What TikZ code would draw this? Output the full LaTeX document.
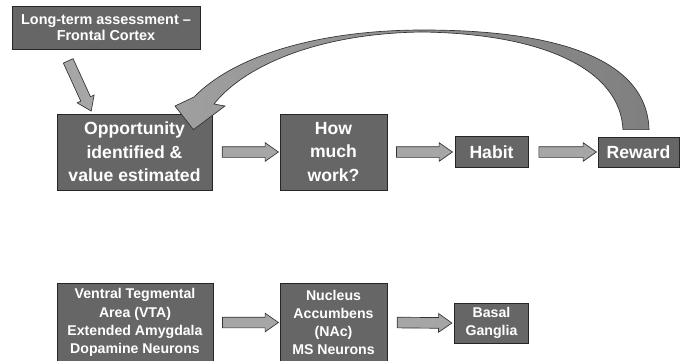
\documentclass[tikz,border=0pt]{standalone}
\usepackage{fontspec}
\setmainfont{Liberation Sans}
\usepackage{xcolor}
\usepackage{tikz}
\usetikzlibrary{arrows.meta, positioning, shapes.arrows, calc}

\definecolor{boxgray}{gray}{0.40}
\definecolor{arrowgray}{gray}{0.65}

% block arrow between two points
\newcommand{\blockarrow}[2]{%
\path let \p1=#1, \p2=#2,
\n1={atan2(\y2-\y1,\x2-\x1)},
\n2={veclen(\x2-\x1,\y2-\y1)} in
node[barrow, minimum height=\n2, rotate=\n1] at ($#1!0.5!#2$) {};}

\begin{document}
\begin{tikzpicture}[
x=0.75pt, y=-0.75pt,
box/.style={
rectangle,
draw=black!85,
line width=0.6pt,
fill=boxgray,
text=white,
inner sep=0pt,
align=center
},
bigtext/.style={font=\fontsize{13.2}{17.6}\selectfont\bfseries},
smalltext/.style={font=\fontsize{10.6}{13.6}\selectfont\bfseries},
barrow/.style={
single arrow,
draw=black!80,
line width=0.5pt,
fill=arrowgray,
inner xsep=0pt,
inner ysep=3.75pt,
single arrow head extend=3pt,
single arrow tip angle=70
},
bigarrow/.style={
draw=black!80,
line width=0.5pt,
left color=gray!75,
right color=gray!100
}
]
\useasboundingbox (0,0) rectangle (684,360);
\clip (0,0) rectangle (684,360);

% Top row
\node[box, font=\fontsize{10.8}{11.8}\selectfont\bfseries,
minimum width=141pt, minimum height=32.25pt] (longterm)
at (106,27.5) {Long-term assessment --\\Frontal Cortex};

\node[box, bigtext, minimum width=116.25pt, minimum height=57pt] (opportunity)
at (134.5,152) {Opportunity\\identified \&\\value estimated};

\node[box, bigtext, minimum width=80.25pt, minimum height=57pt] (howmuch)
at (333.5,152) {How\\much\\work?};

\node[box, bigtext, minimum width=54.75pt, minimum height=23.25pt] (habit)
at (491.5,152) {Habit};

\node[box, bigtext, minimum width=60.75pt, minimum height=22.5pt] (reward)
at (638.5,152) {Reward};

% Bottom row
\node[box, smalltext, minimum width=117pt, minimum height=59.25pt] (vta)
at (135,322.5) {Ventral Tegmental\\Area (VTA)\\Extended Amygdala\\Dopamine Neurons};

\node[box, smalltext, minimum width=80.25pt, minimum height=59.25pt] (nac)
at (333.5,322.5) {Nucleus\\Accumbens\\(NAc)\\MS Neurons};

\node[box, smalltext, minimum width=55.5pt, minimum height=30pt] (basal)
at (491.5,323) {Basal\\Ganglia};

% Arrows
\blockarrow{([xshift=41.25pt,yshift=-6pt]longterm.south west)}{([xshift=24.75pt,yshift=4.5pt]opportunity.north west)}
\blockarrow{([xshift=4.5pt]opportunity.east)}{([xshift=-3.75pt]howmuch.west)}
\blockarrow{([xshift=4pt]howmuch.east)}{([xshift=-4.5pt]habit.west)}
\blockarrow{([xshift=5pt]habit.east)}{([xshift=-3.75pt]reward.west)}
\blockarrow{([xshift=4pt]vta.east)}{([xshift=-3.75pt]nac.west)}
\blockarrow{([xshift=4.5pt]nac.east)}{([xshift=-4.5pt]basal.west)}

% Curved arrow back
\draw[bigarrow]
([shift={(10.5,-7)}]reward.north)
.. controls (647,60) and (560,30) .. (423,30)
.. controls (320,30) and (235,55) .. (194,97)
-- (175,106) -- ([shift={(-19,16)}]opportunity.north east)
-- (225,106) -- (214,104)
.. controls (245,65) and (320,33) .. (423,32)
.. controls (545,34) and (620,70) .. ([shift={(-15.5,-7)}]reward.north)
-- cycle;

\end{tikzpicture}
\end{document}
